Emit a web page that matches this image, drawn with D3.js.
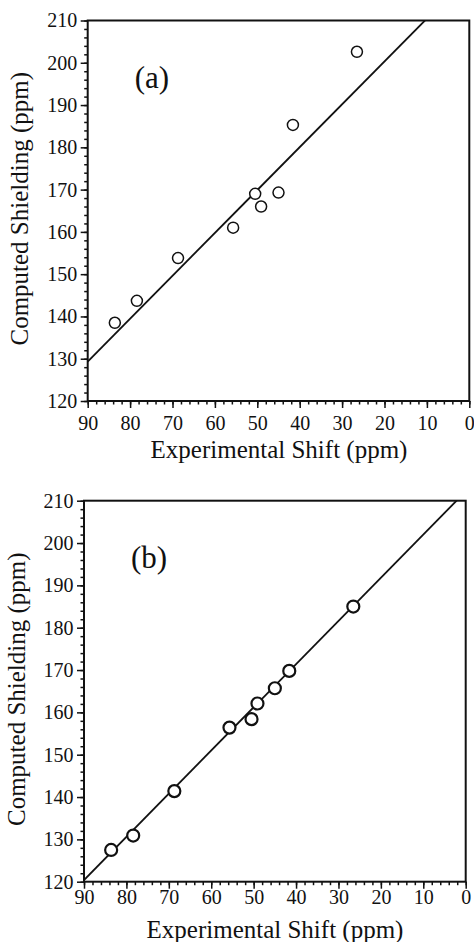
<!DOCTYPE html>
<html>
<head>
<meta charset="utf-8">
<script src="https://cdn.jsdelivr.net/npm/d3@7"></script>
</head>
<body style="margin:0;background:#fff">
<svg id="chart" width="474" height="942" font-family="Liberation Serif"></svg>
<script>
// experimental shift (ppm), same for both panels
var expShift = [26.5, 41.6, 45.0, 49.1, 50.5, 55.7, 68.7, 78.4, 83.6];
// computed shielding (ppm)
var shieldA = [202.6, 185.3, 169.3, 166.0, 169.0, 161.0, 153.8, 143.7, 138.5];
var shieldB = [185.0, 169.8, 165.7, 162.1, 158.4, 156.4, 141.4, 130.9, 127.5];
// fitted lines: [slope, intercept]
var fitA = [-1.014, 220.6];
var fitB = [-1.02, 212.2];

var xMajor = [90, 80, 70, 60, 50, 40, 30, 20, 10, 0];
var yMajor = [120, 130, 140, 150, 160, 170, 180, 190, 200, 210];
var xMinor = d3.range(0, 91, 2);
var yMinor = d3.range(120, 211, 2);
var panelNames = ['(a)', '(b)'];
var xTitle = 'Experimental Shift (ppm)';
var yTitle = 'Computed Shielding (ppm)';

var svg = d3.select('#chart');
svg.append('rect').attr('width', 474).attr('height', 942).attr('fill', '#fff');

function setFont(sel, size) {
  sel.attr('font-family', 'Liberation Serif')
    .attr('font-size', size)
    .style('font-family', '"Liberation Serif"')
    .style('font-size', size + 'px')
    .attr('fill', '#111');
}

function drawPanel(opts) {
  var g = svg.append('g').attr('font-family', 'Liberation Serif');
  var x = d3.scaleLinear().domain([90, 0]).range([opts.left, opts.right]);
  var y = d3.scaleLinear().domain([120, 210]).range([opts.bottom, opts.top]);

  var clipId = 'clip' + opts.idx;
  svg.append('clipPath').attr('id', clipId)
    .append('rect')
    .attr('x', opts.left).attr('y', opts.top)
    .attr('width', opts.right - opts.left)
    .attr('height', opts.bottom - opts.top);

  // minor ticks
  var xMin = g.append('g')
    .attr('transform', 'translate(0,' + opts.bottom + ')')
    .call(d3.axisBottom(x).tickValues(xMinor).tickSize(3.5).tickSizeOuter(0).tickFormat(''));
  var yMin = g.append('g')
    .attr('transform', 'translate(' + opts.left + ',0)')
    .call(d3.axisLeft(y).tickValues(yMinor).tickSize(3.5).tickSizeOuter(0).tickFormat(''));

  // major ticks + labels
  var xAx = g.append('g')
    .attr('transform', 'translate(0,' + opts.bottom + ')')
    .call(d3.axisBottom(x).tickValues(xMajor).tickSize(7).tickSizeOuter(0)
      .tickPadding(opts.xPad).tickFormat(d3.format('d')));
  var yAx = g.append('g')
    .attr('transform', 'translate(' + opts.left + ',0)')
    .call(d3.axisLeft(y).tickValues(yMajor).tickSize(7).tickSizeOuter(0)
      .tickPadding(3.5).tickFormat(d3.format('d')));

  [xMin, yMin, xAx, yAx].forEach(function(a) {
    a.attr('font-family', 'Liberation Serif').attr('font-size', 20);
    a.select('.domain').remove();
    a.selectAll('line').attr('stroke', '#111').attr('stroke-width', 1.5);
    setFont(a.selectAll('text'), 20);
  });

  // fit line
  var lineData = [0, 90].map(function(v) {
    return [v, opts.fit[0] * v + opts.fit[1]];
  });
  g.append('path')
    .datum(lineData)
    .attr('clip-path', 'url(#' + clipId + ')')
    .attr('fill', 'none')
    .attr('stroke', '#111')
    .attr('stroke-width', 1.8)
    .attr('d', d3.line()
      .x(function(d) { return x(d[0]); })
      .y(function(d) { return y(d[1]); }));

  // frame
  g.append('rect')
    .attr('x', opts.left).attr('y', opts.top)
    .attr('width', opts.right - opts.left)
    .attr('height', opts.bottom - opts.top)
    .attr('fill', 'none')
    .attr('stroke', '#111')
    .attr('stroke-width', 2);

  // points
  var pts = expShift.map(function(v, i) { return [v, opts.values[i]]; });
  g.selectAll('.pt').data(pts).enter().append('circle')
    .attr('class', 'pt')
    .attr('cx', function(d) { return x(d[0]); })
    .attr('cy', function(d) { return y(d[1]); })
    .attr('r', opts.r)
    .attr('fill', '#fff')
    .attr('stroke', '#111')
    .attr('stroke-width', opts.sw);

  // panel label
  g.append('text')
    .attr('x', opts.left + 47)
    .attr('y', opts.top + 67)
    .call(setFont, 31)
    .text(panelNames[opts.idx]);

  // axis titles
  g.append('text')
    .attr('x', opts.xTitleX)
    .attr('y', opts.bottom + opts.xTitleDy)
    .attr('text-anchor', 'middle')
    .call(setFont, 25)
    .text(xTitle);

  g.append('text')
    .attr('transform', 'translate(' + opts.yTitleX + ',' + ((opts.top + opts.bottom) / 2 - 2) + ') rotate(-90)')
    .attr('text-anchor', 'middle')
    .call(setFont, 25)
    .text(yTitle);
}

drawPanel({
  idx: 0, left: 87.7, right: 469.3, top: 20.5, bottom: 401,
  values: shieldA, fit: fitA, r: 5.5, sw: 1.5,
  xPad: 8, xTitleX: 279, xTitleDy: 57, yTitleX: 28
});
drawPanel({
  idx: 1, left: 84, right: 465.7, top: 500.7, bottom: 881.7,
  values: shieldB, fit: fitB, r: 6, sw: 2.2,
  xPad: 1, xTitleX: 275, xTitleDy: 56, yTitleX: 25
});
</script>
</body>
</html>
